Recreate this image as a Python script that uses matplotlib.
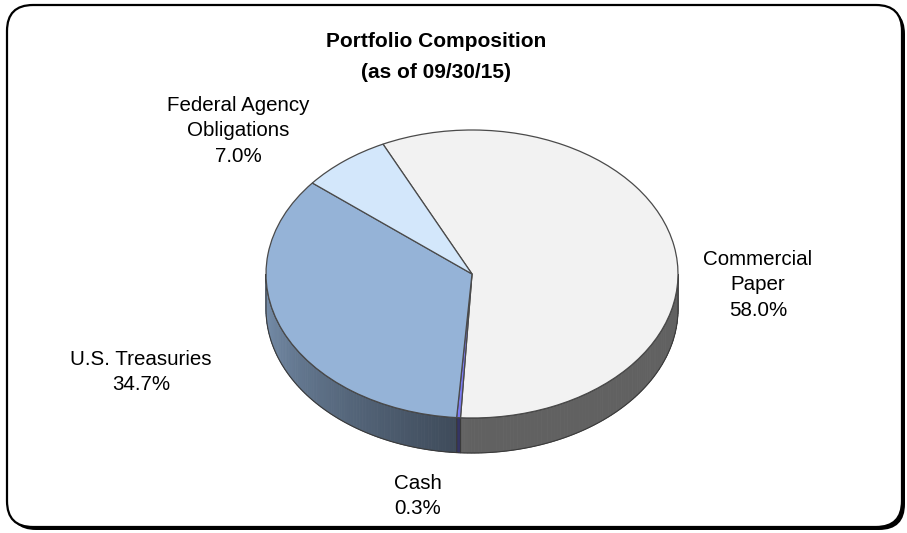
import numpy as np
import matplotlib.pyplot as plt
from matplotlib.patches import Wedge, Polygon, FancyBboxPatch
from matplotlib.transforms import Affine2D
from matplotlib.colors import to_rgb

plt.rcParams['font.family'] = ['Liberation Sans', 'DejaVu Sans']

# data
categories = ["Commercial Paper", "Cash", "U.S. Treasuries", "Federal Agency Obligations"]
label_text = ["Commercial\nPaper", "Cash", "U.S. Treasuries", "Federal Agency\nObligations"]
shares = [58.0, 0.3, 34.7, 7.0]
title = "Portfolio Composition\n(as of 09/30/15)"

# styling / layout
top_colors = ["#F2F2F2", "#7C7CF2", "#95B3D7", "#D3E7FB"]
label_pos = [(758, 285), (418, 496), (141, 372), (238, 131)]  # pixel centres, y down

W, H = 907, 533
cx, cy = 472, H - 274
rx, ry = 206, 144
depth = 35
start = 115.6


def shade(angle):
    phi = angle % 360
    if phi < 270:
        return 0.40 + 0.42 * (270 - phi) / 90
    return 0.40


def arc(t0, t1, dy=0, n=None):
    if n is None:
        n = max(2, int(abs(t1 - t0)) + 2)
    t = np.radians(np.linspace(t0, t1, n))
    return np.column_stack([cx + rx * np.cos(t), cy + ry * np.sin(t) - dy])


fig = plt.figure(figsize=(W / 100, H / 100), dpi=100)
ax = fig.add_axes([0, 0, 1, 1])
ax.set_xlim(0, W)
ax.set_ylim(0, H)
ax.axis('off')

# rounded frame with shadow
box = dict(boxstyle="round,pad=0,rounding_size=26")
ax.add_patch(FancyBboxPatch((10, 3), 895, 522, fc='black', ec='none', **box))
ax.add_patch(FancyBboxPatch((7, 6), 895, 522, fc='white', ec='black', lw=1.6, **box))

# slice angles, clockwise from start
cum = np.concatenate([[0], np.cumsum(shares)])
hi_ang = start - cum[:-1] * 3.6
lo_ang = start - cum[1:] * 3.6

# side walls (front half only)
for lo, hi, col in zip(lo_ang, hi_ang, top_colors):
    base = np.array(to_rgb(col))
    for k in (-1, 0, 1):
        f0, f1 = -180 + 360 * k, 360 * k
        a0, a1 = max(lo, f0), min(hi, f1)
        if a1 <= a0:
            continue
        edges = np.linspace(a0, a1, max(2, int((a1 - a0) / 1.0) + 2))
        for s0, s1 in zip(edges[:-1], edges[1:]):
            c = base * shade((s0 + s1) / 2)
            pts = np.vstack([arc(s0, s1, n=3), arc(s1, s0, depth, n=3)])
            ax.add_patch(Polygon(pts, closed=True, fc=c, ec=c, lw=0.6))
        outline = np.vstack([arc(a0, a1), arc(a1, a0, depth)])
        ax.add_patch(Polygon(outline, closed=True, fc='none', ec='#3a3a3a', lw=0.8))

# top faces
tr = Affine2D().scale(rx, ry).translate(cx, cy) + ax.transData
for lo, hi, col in zip(lo_ang, hi_ang, top_colors):
    w = Wedge((0, 0), 1, lo, hi, fc=col, ec='#4a4a4a', lw=0.9)
    w.set_transform(tr)
    ax.add_patch(w)

# labels
for txt, val, (x, y) in zip(label_text, shares, label_pos):
    ax.text(x, H - y, f"{txt}\n{val:.1f}%", ha='center', va='center',
            fontsize=14.8, linespacing=1.42)

ax.text(436, H - 57, title, ha='center', va='center', fontsize=15,
        fontweight='bold', linespacing=1.75)

fig.savefig("out.png", dpi=100)
